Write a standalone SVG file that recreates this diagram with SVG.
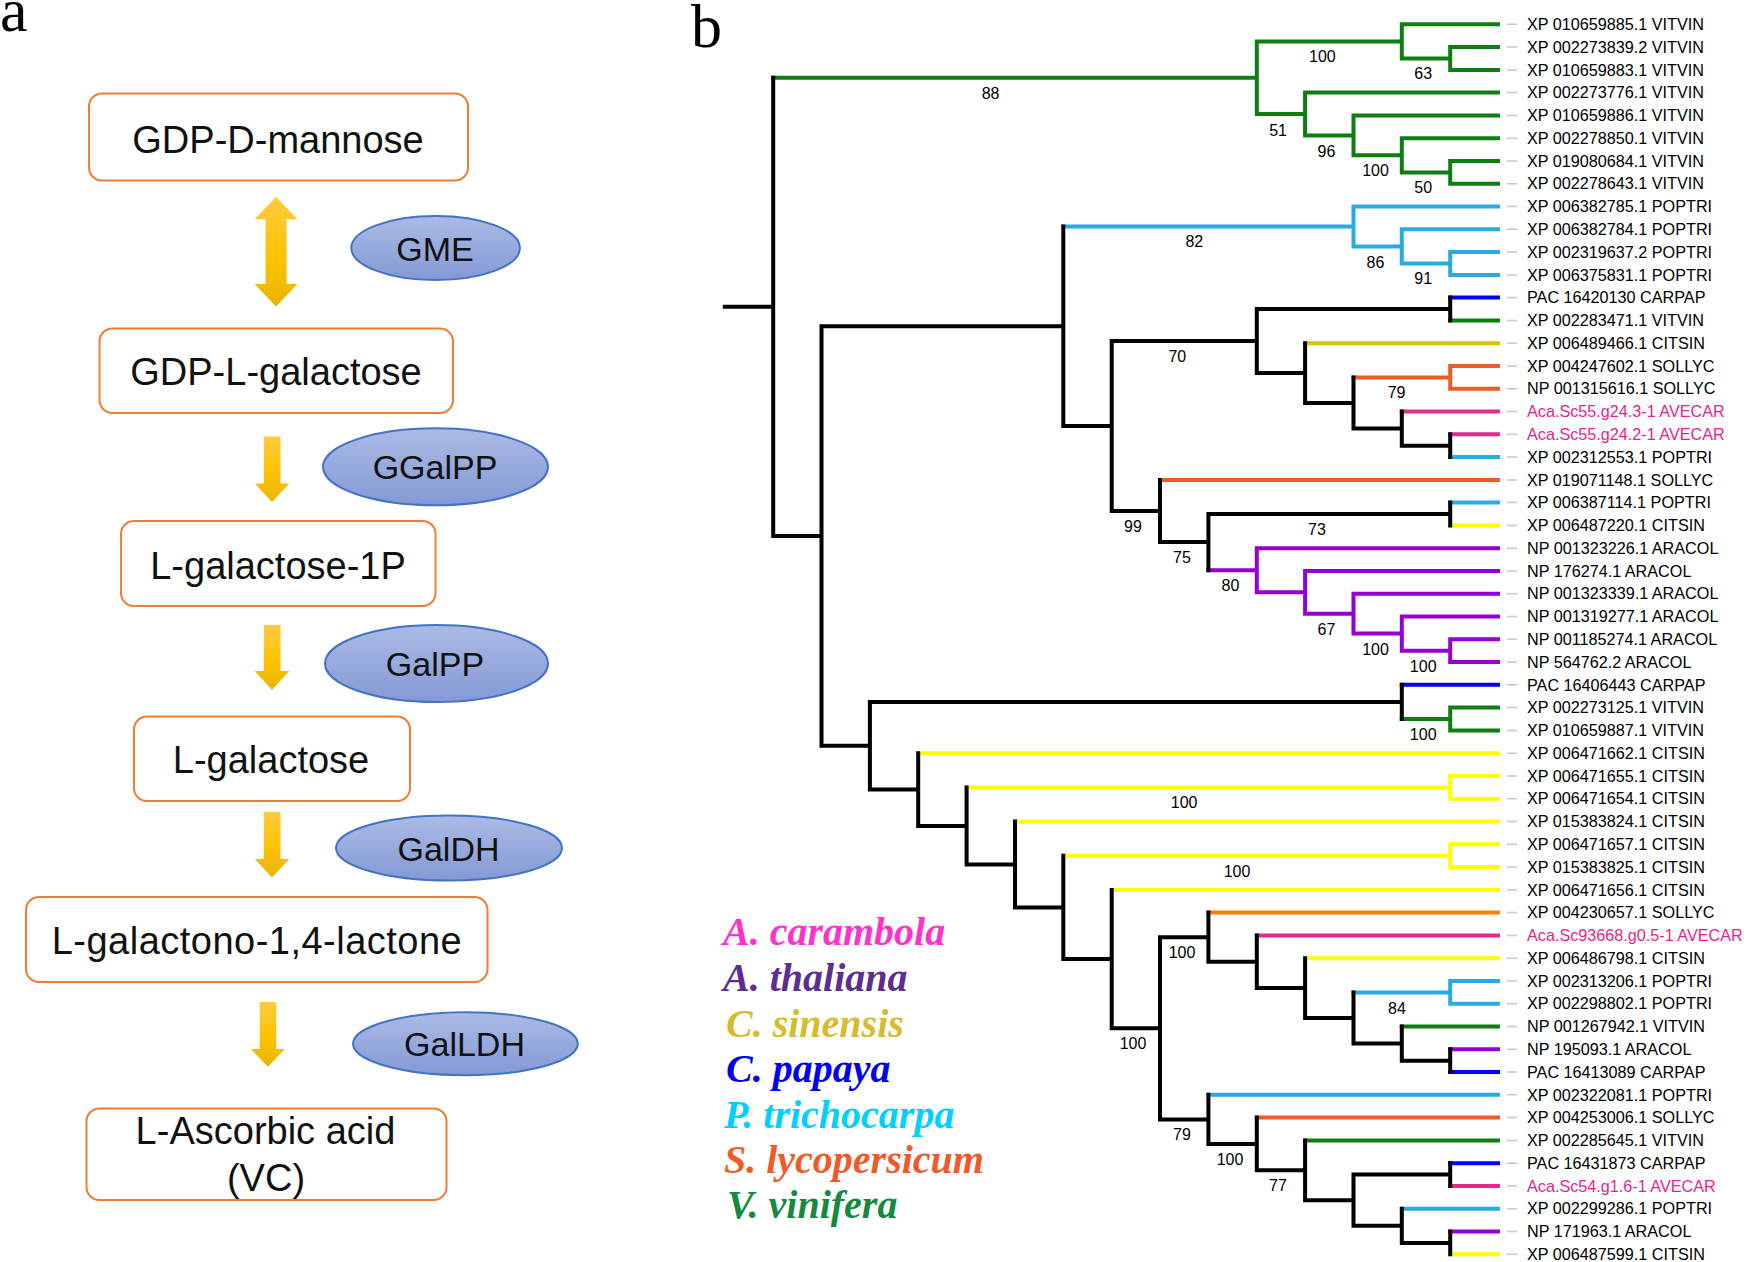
<svg xmlns="http://www.w3.org/2000/svg" width="1748" height="1262" viewBox="0 0 1748 1262">
<defs>
<linearGradient id="eg" x1="0" y1="0" x2="0" y2="1"><stop offset="0" stop-color="#abbbe5"/><stop offset="1" stop-color="#8499d5"/></linearGradient>
<linearGradient id="ag" x1="0" y1="0" x2="0" y2="1"><stop offset="0" stop-color="#ffcb40"/><stop offset="0.55" stop-color="#ffc200"/><stop offset="1" stop-color="#e8b400"/></linearGradient>
<style>
.box{fill:#fff;stroke:#f07b32;stroke-width:2}
.enz{fill:url(#eg);stroke:#4472c4;stroke-width:2}
.arr{fill:url(#ag)}
.t1{font-family:"Liberation Sans",Arial,sans-serif;font-size:38px;fill:#111;text-anchor:middle}
.t2{font-family:"Liberation Sans",Arial,sans-serif;font-size:34px;fill:#111;text-anchor:middle}
.pl{font-family:"Liberation Serif","Times New Roman",serif;font-size:62px;fill:#000}
.br{fill:none;stroke-width:4;stroke-linecap:square}
.lf{font-family:"Liberation Sans",Arial,sans-serif;font-size:16.2px;fill:#000}
.pk{fill:#e91e8c}
.bs{font-family:"Liberation Sans",Arial,sans-serif;font-size:16px;fill:#000;text-anchor:middle}
.lg{font-family:"Liberation Serif","Times New Roman",serif;font-style:italic;font-weight:bold;font-size:40px}
</style>
</defs>
<rect width="1748" height="1262" fill="#fff"/>
<text class="pl" x="0" y="31">a</text>
<text class="pl" x="691" y="46.5">b</text>

<g id="connectors-a">
<path class="arr" d="M276 196.7L297.5 219.2H286.5V284.1H297.5L276 306.6L254.5 284.1H265.5V219.2H254.5Z"/>
<path class="arr" d="M263.8 436.5H280.5V483.6H289.3L272 502L254.8 483.6H263.8Z"/>
<path class="arr" d="M263.8 625H280.5V671H289.3L272 689.7L254.8 671H263.8Z"/>
<path class="arr" d="M263.8 811.8H280.5V859H289.3L272 877.4L254.8 859H263.8Z"/>
<path class="arr" d="M259.7 1002H276.2V1049H284.7L267.9 1066.7L251 1049H259.7Z"/>
</g>

<g id="node-gdp-d-mannose"><rect class="box" x="89" y="93.5" width="379" height="87" rx="13"/><text class="t1" x="278" y="152.5">GDP-D-mannose</text></g>
<g id="node-gdp-l-galactose"><rect class="box" x="99.5" y="328.5" width="353.5" height="84.5" rx="13"/><text class="t1" x="276" y="385">GDP-L-galactose</text></g>
<g id="node-l-galactose-1p"><rect class="box" x="121" y="521" width="314.5" height="85" rx="13"/><text class="t1" x="278" y="579">L-galactose-1P</text></g>
<g id="node-l-galactose"><rect class="box" x="134" y="716.5" width="276" height="84.5" rx="13"/><text class="t1" x="271" y="773">L-galactose</text></g>
<g id="node-l-galactono-lactone"><rect class="box" x="26" y="897" width="461.5" height="85" rx="13"/><text class="t1" x="256.7" y="954" textLength="410" lengthAdjust="spacing">L-galactono-1,4-lactone</text></g>
<g id="node-ascorbic-acid"><rect class="box" x="86.5" y="1108.5" width="360" height="91.5" rx="13"/><text class="t1"><tspan x="265.5" y="1144">L-Ascorbic acid</tspan><tspan x="266" y="1191">(VC)</tspan></text></g>

<g id="enzyme-gme"><ellipse class="enz" cx="435.6" cy="248" rx="84.3" ry="32"/><text class="t2" x="435" y="260.5">GME</text></g>
<g id="enzyme-ggalpp"><ellipse class="enz" cx="435.5" cy="466.8" rx="112.5" ry="38.5"/><text class="t2" x="435" y="479">GGalPP</text></g>
<g id="enzyme-galpp"><ellipse class="enz" cx="436.5" cy="663.5" rx="111.5" ry="38.5"/><text class="t2" x="435" y="676">GalPP</text></g>
<g id="enzyme-galdh"><ellipse class="enz" cx="449" cy="848" rx="113" ry="32.5"/><text class="t2" x="448.5" y="860.5">GalDH</text></g>
<g id="enzyme-galldh"><ellipse class="enz" cx="465.4" cy="1043.8" rx="112.4" ry="31.5"/><text class="t2" x="464.5" y="1056">GalLDH</text></g>

<g id="connectors-tree">
<path class="br" stroke="#0e7e12" d="M1401.8 24.3H1498M1450.2 47.1H1498M1450.2 69.9H1498M1305.1 92.6H1498M1353.5 115.4H1498M1401.8 138.2H1498M1450.2 161H1498M1450.2 183.7H1498M1450.2 320.4H1498M1450.2 707.6H1498M1450.2 730.4H1498M1401.8 1026.5H1498M1305.1 1140.4H1498M1401.8 58.5H1450.2M1256.8 41.4H1401.8M1401.8 172.4H1450.2M1353.5 155.3H1401.8M1305.1 135.4H1353.5M1256.8 114H1305.1M773.2 77.7H1256.8M1401.8 719H1450.2M1450.2 47.1V69.9M1401.8 24.3V58.5M1450.2 161V183.7M1401.8 138.2V172.4M1353.5 115.4V155.3M1305.1 92.6V135.4M1256.8 41.4V114M1450.2 707.6V730.4"/>
<path class="br" stroke="#29abe2" d="M1353.5 206.5H1498M1401.8 229.3H1498M1450.2 252.1H1498M1450.2 274.9H1498M1450.2 457.1H1498M1450.2 502.6H1498M1450.2 981H1498M1450.2 1003.7H1498M1208.4 1094.8H1498M1401.8 1208.7H1498M1401.8 263.5H1450.2M1353.5 246.4H1401.8M1063.3 226.5H1353.5M1353.5 992.4H1450.2M1450.2 252.1V274.9M1401.8 229.3V263.5M1353.5 206.5V246.4M1450.2 981V1003.7"/>
<path class="br" stroke="#0000ff" d="M1450.2 297.6H1498M1401.8 684.8H1498M1450.2 1072.1H1498M1450.2 1163.2H1498"/>
<path class="br" stroke="#d4c300" d="M1305.1 343.2H1498"/>
<path class="br" stroke="#ef5b25" d="M1450.2 366H1498M1450.2 388.7H1498M1160 479.9H1498M1256.8 1117.6H1498M1353.5 377.4H1450.2M1450.2 366V388.7"/>
<path class="br" stroke="#ff7f00" d="M1208.4 912.6H1498"/>
<path class="br" stroke="#e52a8c" d="M1401.8 411.5H1498M1450.2 434.3H1498M1256.8 935.4H1498M1450.2 1186H1498"/>
<path class="br" stroke="#ffff00" d="M1450.2 525.4H1498M918.2 753.2H1498M1450.2 776H1498M1450.2 798.7H1498M1015 821.5H1498M1450.2 844.3H1498M1450.2 867.1H1498M1111.7 889.9H1498M1305.1 958.2H1498M1450.2 1254.3H1498M966.6 787.4H1450.2M1063.3 855.7H1450.2M1450.2 776V798.7M1450.2 844.3V867.1"/>
<path class="br" stroke="#9400d3" d="M1256.8 548.2H1498M1305.1 571H1498M1353.5 593.7H1498M1401.8 616.5H1498M1450.2 639.3H1498M1450.2 662.1H1498M1450.2 1049.3H1498M1450.2 1231.5H1498M1208.4 570.3H1256.8M1256.8 592.3H1305.1M1305.1 613.7H1353.5M1353.5 633.6H1401.8M1401.8 650.7H1450.2M1256.8 548.2V592.3M1305.1 571V613.7M1353.5 593.7V633.6M1401.8 616.5V650.7M1450.2 639.3V662.1"/>
<path class="br" stroke="#000" d="M724.8 306.8H773.2M773.2 536H821.5M821.5 326.2H1063.3M1063.3 426H1111.7M1111.7 341.1H1256.8M1256.8 309H1450.2M1256.8 373.1H1305.1M1305.1 403H1353.5M1353.5 428.6H1401.8M1401.8 445.7H1450.2M1111.7 511H1160M1160 542.1H1208.4M1208.4 514H1450.2M821.5 745.7H869.9M869.9 701.9H1401.8M869.9 789.6H918.2M918.2 825.9H966.6M966.6 864.5H1015M1015 907.4H1063.3M1063.3 959.1H1111.7M1111.7 1028.3H1160M1160 937.2H1208.4M1208.4 961.8H1256.8M1256.8 988.1H1305.1M1305.1 1018H1353.5M1353.5 1043.6H1401.8M1401.8 1060.7H1450.2M1160 1119.4H1208.4M1208.4 1144H1256.8M1256.8 1170.3H1305.1M1305.1 1200.2H1353.5M1353.5 1174.6H1450.2M1353.5 1225.8H1401.8M1401.8 1242.9H1450.2M773.2 77.7V536M821.5 326.2V745.7M1063.3 226.5V426M1111.7 341.1V511M1256.8 309V373.1M1450.2 297.6V320.4M1305.1 343.2V403M1353.5 377.4V428.6M1401.8 411.5V445.7M1450.2 434.3V457.1M1160 479.9V542.1M1208.4 514V570.3M1450.2 502.6V525.4M869.9 701.9V789.6M1401.8 684.8V719M918.2 753.2V825.9M966.6 787.4V864.5M1015 821.5V907.4M1063.3 855.7V959.1M1111.7 889.9V1028.3M1160 937.2V1119.4M1208.4 912.6V961.8M1256.8 935.4V988.1M1305.1 958.2V1018M1353.5 992.4V1043.6M1401.8 1026.5V1060.7M1450.2 1049.3V1072.1M1208.4 1094.8V1144M1256.8 1117.6V1170.3M1305.1 1140.4V1200.2M1353.5 1174.6V1225.8M1450.2 1163.2V1186M1401.8 1208.7V1242.9M1450.2 1231.5V1254.3"/>
<path fill="none" stroke="#c8c8c8" stroke-width="1.5" d="M1507 24.3h10M1507 47.1h10M1507 69.9h10M1507 92.6h10M1507 115.4h10M1507 138.2h10M1507 161h10M1507 183.7h10M1507 206.5h10M1507 229.3h10M1507 252.1h10M1507 274.9h10M1507 297.6h10M1507 320.4h10M1507 343.2h10M1507 366h10M1507 388.7h10M1507 411.5h10M1507 434.3h10M1507 457.1h10M1507 479.9h10M1507 502.6h10M1507 525.4h10M1507 548.2h10M1507 571h10M1507 593.7h10M1507 616.5h10M1507 639.3h10M1507 662.1h10M1507 684.8h10M1507 707.6h10M1507 730.4h10M1507 753.2h10M1507 776h10M1507 798.7h10M1507 821.5h10M1507 844.3h10M1507 867.1h10M1507 889.9h10M1507 912.6h10M1507 935.4h10M1507 958.2h10M1507 981h10M1507 1003.7h10M1507 1026.5h10M1507 1049.3h10M1507 1072.1h10M1507 1094.8h10M1507 1117.6h10M1507 1140.4h10M1507 1163.2h10M1507 1186h10M1507 1208.7h10M1507 1231.5h10M1507 1254.3h10"/>
</g>

<g id="bootstrap">
<text class="bs" x="1322.4" y="62.4">100</text>
<text class="bs" x="1423.2" y="79">63</text>
<text class="bs" x="990.6" y="99">88</text>
<text class="bs" x="1278.1" y="135.7">51</text>
<text class="bs" x="1326.5" y="156.7">96</text>
<text class="bs" x="1375.5" y="176.4">100</text>
<text class="bs" x="1423.2" y="193.4">50</text>
<text class="bs" x="1194.3" y="247.4">82</text>
<text class="bs" x="1375.5" y="268">86</text>
<text class="bs" x="1423.2" y="284">91</text>
<text class="bs" x="1177.3" y="362.4">70</text>
<text class="bs" x="1396.6" y="398.4">79</text>
<text class="bs" x="1133" y="532.4">99</text>
<text class="bs" x="1316.9" y="535">73</text>
<text class="bs" x="1182" y="563">75</text>
<text class="bs" x="1230.4" y="591.4">80</text>
<text class="bs" x="1326.5" y="634.7">67</text>
<text class="bs" x="1375.5" y="654.7">100</text>
<text class="bs" x="1423.2" y="671.7">100</text>
<text class="bs" x="1423.2" y="739.7">100</text>
<text class="bs" x="1184.1" y="808.4">100</text>
<text class="bs" x="1237" y="876.7">100</text>
<text class="bs" x="1182" y="958.4">100</text>
<text class="bs" x="1397" y="1014">84</text>
<text class="bs" x="1133" y="1049">100</text>
<text class="bs" x="1182" y="1140">79</text>
<text class="bs" x="1230" y="1165">100</text>
<text class="bs" x="1278" y="1191.4">77</text>
</g>

<g id="leaves" class="lf">
<g id="leaf01"><text x="1527" y="30">XP 010659885.1 VITVIN</text></g>
<g id="leaf02"><text x="1527" y="52.8">XP 002273839.2 VITVIN</text></g>
<g id="leaf03"><text x="1527" y="75.6">XP 010659883.1 VITVIN</text></g>
<g id="leaf04"><text x="1527" y="98.3">XP 002273776.1 VITVIN</text></g>
<g id="leaf05"><text x="1527" y="121.1">XP 010659886.1 VITVIN</text></g>
<g id="leaf06"><text x="1527" y="143.9">XP 002278850.1 VITVIN</text></g>
<g id="leaf07"><text x="1527" y="166.7">XP 019080684.1 VITVIN</text></g>
<g id="leaf08"><text x="1527" y="189.4">XP 002278643.1 VITVIN</text></g>
<g id="leaf09"><text x="1527" y="212.2">XP 006382785.1 POPTRI</text></g>
<g id="leaf10"><text x="1527" y="235">XP 006382784.1 POPTRI</text></g>
<g id="leaf11"><text x="1527" y="257.8">XP 002319637.2 POPTRI</text></g>
<g id="leaf12"><text x="1527" y="280.6">XP 006375831.1 POPTRI</text></g>
<g id="leaf13"><text x="1527" y="303.3">PAC 16420130 CARPAP</text></g>
<g id="leaf14"><text x="1527" y="326.1">XP 002283471.1 VITVIN</text></g>
<g id="leaf15"><text x="1527" y="348.9">XP 006489466.1 CITSIN</text></g>
<g id="leaf16"><text x="1527" y="371.7">XP 004247602.1 SOLLYC</text></g>
<g id="leaf17"><text x="1527" y="394.4">NP 001315616.1 SOLLYC</text></g>
<g id="leaf18"><text class="pk" x="1527" y="417.2">Aca.Sc55.g24.3-1 AVECAR</text></g>
<g id="leaf19"><text class="pk" x="1527" y="440">Aca.Sc55.g24.2-1 AVECAR</text></g>
<g id="leaf20"><text x="1527" y="462.8">XP 002312553.1 POPTRI</text></g>
<g id="leaf21"><text x="1527" y="485.6">XP 019071148.1 SOLLYC</text></g>
<g id="leaf22"><text x="1527" y="508.3">XP 006387114.1 POPTRI</text></g>
<g id="leaf23"><text x="1527" y="531.1">XP 006487220.1 CITSIN</text></g>
<g id="leaf24"><text x="1527" y="553.9">NP 001323226.1 ARACOL</text></g>
<g id="leaf25"><text x="1527" y="576.7">NP 176274.1 ARACOL</text></g>
<g id="leaf26"><text x="1527" y="599.4">NP 001323339.1 ARACOL</text></g>
<g id="leaf27"><text x="1527" y="622.2">NP 001319277.1 ARACOL</text></g>
<g id="leaf28"><text x="1527" y="645">NP 001185274.1 ARACOL</text></g>
<g id="leaf29"><text x="1527" y="667.8">NP 564762.2 ARACOL</text></g>
<g id="leaf30"><text x="1527" y="690.5">PAC 16406443 CARPAP</text></g>
<g id="leaf31"><text x="1527" y="713.3">XP 002273125.1 VITVIN</text></g>
<g id="leaf32"><text x="1527" y="736.1">XP 010659887.1 VITVIN</text></g>
<g id="leaf33"><text x="1527" y="758.9">XP 006471662.1 CITSIN</text></g>
<g id="leaf34"><text x="1527" y="781.7">XP 006471655.1 CITSIN</text></g>
<g id="leaf35"><text x="1527" y="804.4">XP 006471654.1 CITSIN</text></g>
<g id="leaf36"><text x="1527" y="827.2">XP 015383824.1 CITSIN</text></g>
<g id="leaf37"><text x="1527" y="850">XP 006471657.1 CITSIN</text></g>
<g id="leaf38"><text x="1527" y="872.8">XP 015383825.1 CITSIN</text></g>
<g id="leaf39"><text x="1527" y="895.6">XP 006471656.1 CITSIN</text></g>
<g id="leaf40"><text x="1527" y="918.3">XP 004230657.1 SOLLYC</text></g>
<g id="leaf41"><text class="pk" x="1527" y="941.1">Aca.Sc93668.g0.5-1 AVECAR</text></g>
<g id="leaf42"><text x="1527" y="963.9">XP 006486798.1 CITSIN</text></g>
<g id="leaf43"><text x="1527" y="986.7">XP 002313206.1 POPTRI</text></g>
<g id="leaf44"><text x="1527" y="1009.4">XP 002298802.1 POPTRI</text></g>
<g id="leaf45"><text x="1527" y="1032.2">NP 001267942.1 VITVIN</text></g>
<g id="leaf46"><text x="1527" y="1055">NP 195093.1 ARACOL</text></g>
<g id="leaf47"><text x="1527" y="1077.8">PAC 16413089 CARPAP</text></g>
<g id="leaf48"><text x="1527" y="1100.5">XP 002322081.1 POPTRI</text></g>
<g id="leaf49"><text x="1527" y="1123.3">XP 004253006.1 SOLLYC</text></g>
<g id="leaf50"><text x="1527" y="1146.1">XP 002285645.1 VITVIN</text></g>
<g id="leaf51"><text x="1527" y="1168.9">PAC 16431873 CARPAP</text></g>
<g id="leaf52"><text class="pk" x="1527" y="1191.7">Aca.Sc54.g1.6-1 AVECAR</text></g>
<g id="leaf53"><text x="1527" y="1214.4">XP 002299286.1 POPTRI</text></g>
<g id="leaf54"><text x="1527" y="1237.2">NP 171963.1 ARACOL</text></g>
<g id="leaf55"><text x="1527" y="1260">XP 006487599.1 CITSIN</text></g>
</g>

<g id="legend" class="lg">
<text x="723" y="945" fill="#ff33cc">A. carambola</text>
<text x="723" y="990.5" fill="#5c2e91">A. thaliana</text>
<text x="726" y="1036.5" fill="#d6bb2a">C. sinensis</text>
<text x="726" y="1081.5" fill="#0000f0">C. papaya</text>
<text x="724" y="1127.5" fill="#00cfff">P. trichocarpa</text>
<text x="724" y="1173" fill="#f05a28">S. lycopersicum</text>
<text x="727" y="1218" fill="#138a3f">V. vinifera</text>
</g>
</svg>
